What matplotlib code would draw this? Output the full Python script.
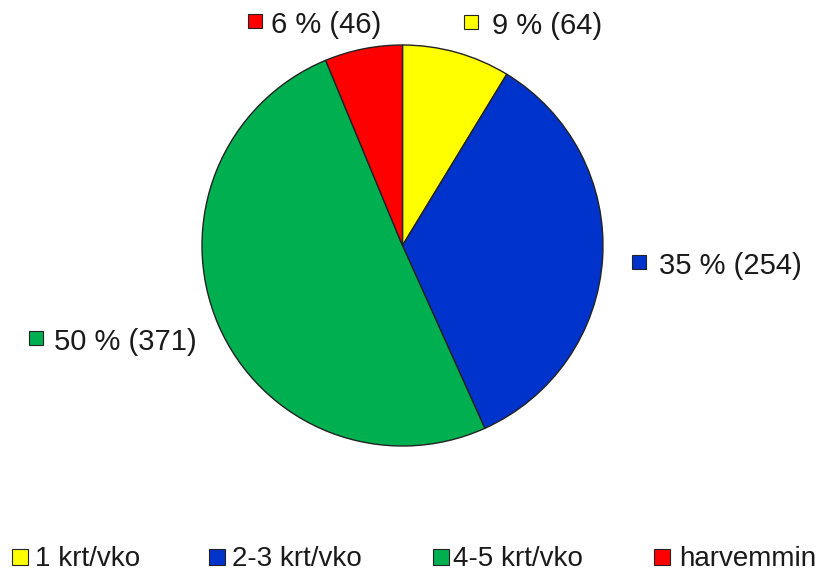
import matplotlib
matplotlib.use("Agg")
import matplotlib.pyplot as plt
from matplotlib.lines import Line2D

categories = ["1 krt/vko", "2-3 krt/vko", "4-5 krt/vko", "harvemmin"]
counts = [64, 254, 371, 46]
colors = ["#FFFF00", "#0033CC", "#00B050", "#FF0000"]

plt.rcParams['font.family'] = ['Liberation Sans', 'DejaVu Sans']

W, H = 827, 573
fig = plt.figure(figsize=(W / 100, H / 100), dpi=100)
fig.patch.set_facecolor("white")

# pie axes (pixel box 202..603 x 45..446)
ax = fig.add_axes([202 / W, 1 - 446 / H, 401 / W, 401 / H])
ax.pie(counts, colors=colors, startangle=90, counterclock=False,
       wedgeprops=dict(edgecolor="#222222", linewidth=1.0))
ax.set_aspect("equal")
ax.set_xlim(-1.0, 1.0)
ax.set_ylim(-1.0, 1.0)
ax.axis("off")

total = sum(counts)
labels = [f"{round(c / total * 100)} % ({c})" for c in counts]


def square(px, py, col, ms=10.5):
    fig.add_artist(Line2D([px / W], [1 - py / H], marker="s", markersize=ms,
                          markerfacecolor=col, markeredgecolor="#222222",
                          markeredgewidth=0.8, linestyle="none",
                          transform=fig.transFigure))


# data label positions (marker x, y, text x in pixels)
label_pos = [(471, 22, 492), (639, 262, 659), (36, 338, 54), (255, 21, 271)]
for (px, py, tx), lab, col in zip(label_pos, labels, colors):
    square(px, py, col)
    fig.text(tx / W, 1 - (py + 1) / H, lab, fontsize=21, color="#1a1a1a",
             ha="left", va="center_baseline")

# legend at bottom
leg_pos = [(20, 35), (217, 232), (441, 453), (662, 679)]
leg_y = 557
for (px, tx), cat, col in zip(leg_pos, categories, colors):
    square(px, leg_y, col, ms=11)
    fig.text(tx / W, 1 - (leg_y - 1) / H, cat, fontsize=20, color="#1a1a1a",
             ha="left", va="center_baseline")

fig.savefig("out.png", dpi=100, facecolor="white")
